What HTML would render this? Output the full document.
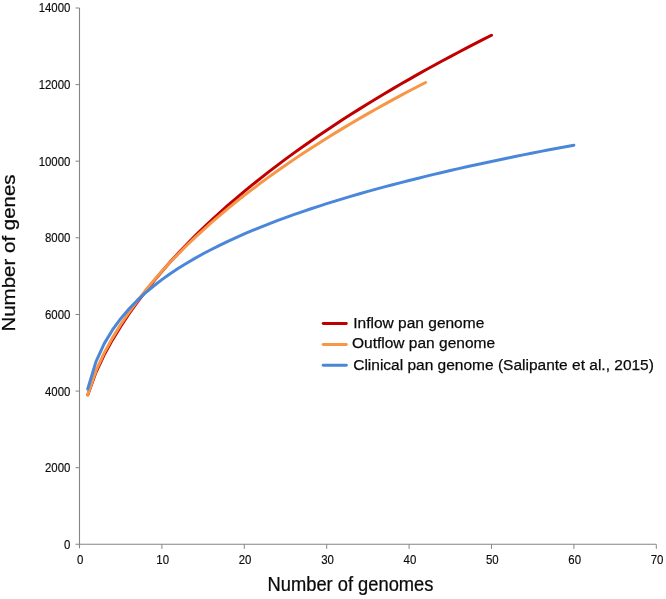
<!DOCTYPE html>
<html><head><meta charset="utf-8"><title>Pan genome</title>
<style>
html,body{margin:0;padding:0;background:#fff}
svg{display:block}
text{font-family:"Liberation Sans","DejaVu Sans",sans-serif;fill:#111}
.tk{font-size:12.9px;fill:#0a0a0a;stroke:#0a0a0a;stroke-width:0.15px}
.lg{font-size:15.5px;fill:#0a0a0a;stroke:#0a0a0a;stroke-width:0.25px}
.ax{font-size:19.7px;fill:#0a0a0a;stroke:#0a0a0a;stroke-width:0.25px}
</style></head><body>
<svg width="666" height="599" viewBox="0 0 666 599">
<rect width="666" height="599" fill="#fff"/>

<g stroke="#858585" stroke-width="1.1" fill="none">
<path d="M79.5,8.0 V548.3"/>
<path d="M75.5,544.3 H656.3"/>
</g><g stroke="#858585" stroke-width="1" fill="none">
<path d="M75.5,467.7 H79.5"/>
<path d="M75.5,391.1 H79.5"/>
<path d="M75.5,314.5 H79.5"/>
<path d="M75.5,237.8 H79.5"/>
<path d="M75.5,161.2 H79.5"/>
<path d="M75.5,84.6 H79.5"/>
<path d="M75.5,8.0 H79.5"/>
<path d="M161.9,544.3 V548.9"/>
<path d="M244.3,544.3 V548.9"/>
<path d="M326.7,544.3 V548.9"/>
<path d="M409.1,544.3 V548.9"/>
<path d="M491.5,544.3 V548.9"/>
<path d="M573.9,544.3 V548.9"/>
<path d="M656.3,544.3 V548.9"/>
</g>
<text class="tk" transform="translate(70.4,548.7) scale(0.885,1)" text-anchor="end">0</text>
<text class="tk" transform="translate(70.4,472.1) scale(0.885,1)" text-anchor="end">2000</text>
<text class="tk" transform="translate(70.4,395.5) scale(0.885,1)" text-anchor="end">4000</text>
<text class="tk" transform="translate(70.4,318.9) scale(0.885,1)" text-anchor="end">6000</text>
<text class="tk" transform="translate(70.4,242.2) scale(0.885,1)" text-anchor="end">8000</text>
<text class="tk" transform="translate(70.4,165.6) scale(0.885,1)" text-anchor="end">10000</text>
<text class="tk" transform="translate(70.4,89.0) scale(0.885,1)" text-anchor="end">12000</text>
<text class="tk" transform="translate(70.4,12.4) scale(0.885,1)" text-anchor="end">14000</text>
<text class="tk" transform="translate(80.3,564) scale(0.885,1)" text-anchor="middle">0</text>
<text class="tk" transform="translate(162.7,564) scale(0.885,1)" text-anchor="middle">10</text>
<text class="tk" transform="translate(245.1,564) scale(0.885,1)" text-anchor="middle">20</text>
<text class="tk" transform="translate(327.5,564) scale(0.885,1)" text-anchor="middle">30</text>
<text class="tk" transform="translate(409.9,564) scale(0.885,1)" text-anchor="middle">40</text>
<text class="tk" transform="translate(492.3,564) scale(0.885,1)" text-anchor="middle">50</text>
<text class="tk" transform="translate(574.7,564) scale(0.885,1)" text-anchor="middle">60</text>
<text class="tk" transform="translate(657.1,564) scale(0.885,1)" text-anchor="middle">70</text>
<g fill="none" stroke-width="3" stroke-linecap="round" stroke-linejoin="round">
<path stroke="#c00000" transform="translate(0,0.3)" d="M87.74,394.60 L95.98,372.01 L104.22,354.57 L112.46,339.58 L120.70,326.09 L128.94,313.68 L137.18,302.12 L145.42,291.24 L153.66,280.95 L161.90,271.16 L170.14,261.80 L178.38,252.82 L186.62,244.19 L194.86,235.87 L203.10,227.83 L211.34,220.05 L219.58,212.51 L227.82,205.18 L236.06,198.06 L244.30,191.12 L252.54,184.36 L260.78,177.77 L269.02,171.32 L277.26,165.03 L285.50,158.87 L293.74,152.84 L301.98,146.93 L310.22,141.14 L318.46,135.46 L326.70,129.89 L334.94,124.42 L343.18,119.04 L351.42,113.75 L359.66,108.56 L367.90,103.44 L376.14,98.41 L384.38,93.45 L392.62,88.58 L400.86,83.77 L409.10,79.03 L417.34,74.36 L425.58,69.75 L433.82,65.21 L442.06,60.72 L450.30,56.29 L458.54,51.92 L466.78,47.61 L475.02,43.35 L483.26,39.14 L491.50,34.98"/>
<path stroke="#f79646" transform="translate(0,0.3)" d="M87.74,394.50 L95.98,370.36 L104.22,352.59 L112.46,337.56 L120.70,324.21 L128.94,312.04 L137.18,300.78 L145.42,290.26 L153.66,280.34 L161.90,270.94 L170.14,261.99 L178.38,253.43 L186.62,245.23 L194.86,237.34 L203.10,229.73 L211.34,222.37 L219.58,215.26 L227.82,208.36 L236.06,201.66 L244.30,195.14 L252.54,188.80 L260.78,182.62 L269.02,176.59 L277.26,170.70 L285.50,164.95 L293.74,159.32 L301.98,153.81 L310.22,148.41 L318.46,143.12 L326.70,137.94 L334.94,132.85 L343.18,127.85 L351.42,122.94 L359.66,118.11 L367.90,113.37 L376.14,108.70 L384.38,104.11 L392.62,99.59 L400.86,95.13 L409.10,90.75 L417.34,86.43 L425.58,82.16"/>
<path stroke="#4a87da" transform="translate(0,0.6)" d="M87.74,388.39 L95.98,360.99 L104.22,343.04 L112.46,329.30 L120.70,318.01 L128.94,308.36 L137.18,299.87 L145.42,292.28 L153.66,285.38 L161.90,279.05 L170.14,273.19 L178.38,267.72 L186.62,262.60 L194.86,257.77 L203.10,253.20 L211.34,248.86 L219.58,244.72 L227.82,240.77 L236.06,236.99 L244.30,233.35 L252.54,229.85 L260.78,226.48 L269.02,223.23 L277.26,220.08 L285.50,217.04 L293.74,214.08 L301.98,211.22 L310.22,208.43 L318.46,205.72 L326.70,203.08 L334.94,200.51 L343.18,198.01 L351.42,195.56 L359.66,193.17 L367.90,190.83 L376.14,188.55 L384.38,186.32 L392.62,184.13 L400.86,181.98 L409.10,179.88 L417.34,177.82 L425.58,175.80 L433.82,173.81 L442.06,171.86 L450.30,169.94 L458.54,168.06 L466.78,166.21 L475.02,164.39 L483.26,162.60 L491.50,160.84 L499.74,159.10 L507.98,157.39 L516.22,155.71 L524.46,154.05 L532.70,152.42 L540.94,150.80 L549.18,149.22 L557.42,147.65 L565.66,146.10 L573.90,144.58"/>
</g>
<g fill="none" stroke-width="2.9" stroke-linecap="round">
<path stroke="#c00000" d="M323.2,323.5 H346.3"/>
<path stroke="#f79646" d="M323.2,344.5 H346.3"/>
<path stroke="#4a86d8" d="M323.2,365.3 H346.3"/>
</g>
<text class="lg" x="353.3" y="327.8">Inflow pan genome</text>
<text class="lg" x="352" y="347.5">Outflow pan genome</text>
<text class="lg" x="353.2" y="369.7">Clinical pan genome (Salipante et al., 2015)</text>
<text class="ax" transform="translate(350.5,591) scale(0.93,1)" text-anchor="middle">Number of genomes</text>
<text class="ax" style="font-size:18.1px" transform="translate(15.3,253) rotate(-90) scale(1.132,1)" text-anchor="middle">Number of genes</text>
</svg></body></html>
